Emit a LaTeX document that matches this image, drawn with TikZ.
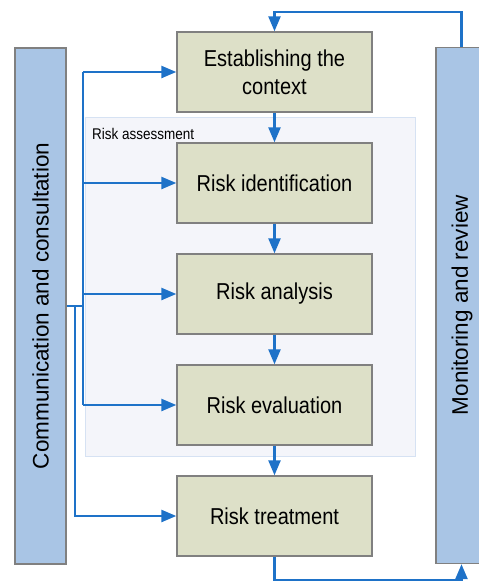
\documentclass[tikz,border=0pt]{standalone}
\usepackage{fontspec}
\setmainfont{Liberation Sans}
\newfontfamily\boxfont[FakeStretch=0.87]{Liberation Sans}
\usetikzlibrary{arrows.meta}
\definecolor{flowblue}{RGB}{30,114,200}
\definecolor{boxfill}{RGB}{221,224,200}
\definecolor{barfill}{RGB}{169,197,229}
\definecolor{edgegray}{RGB}{128,128,128}
\definecolor{regionfill}{RGB}{244,245,250}
\definecolor{regionedge}{RGB}{214,226,243}

\begin{document}
\begin{tikzpicture}[x=1pt, y=-1pt, >={Triangle[length=15pt,width=12pt]},
  stepbox/.style={draw=edgegray, line width=1.4pt, fill=boxfill, minimum width=195pt,
    minimum height=80pt, inner sep=0pt, align=center,
    font=\boxfont\fontsize{23}{28}\selectfont},
  sidebar/.style={draw=edgegray, line width=1.4pt, fill=barfill, minimum width=51pt,
    minimum height=516pt, inner sep=0pt},
  sidetext/.style={rotate=90, font=\fontsize{22.5}{27}\selectfont},
  region/.style={draw=regionedge, line width=1pt, fill=regionfill, minimum width=330pt,
    minimum height=339pt, inner sep=0pt},
  flow/.style={draw=flowblue, line width=2.5pt, ->},
  line/.style={draw=flowblue, line width=2.5pt}]
\useasboundingbox (0,0) rectangle (479,582);
\node[region] (RA) at (250,286.5) {};
\node[anchor=base west, inner sep=0pt, font=\boxfont\fontsize{15.5}{18}\selectfont] (RAL) at (92,139) {Risk assessment};
\node[sidebar] (CC) at (40.5,306) {};
\node[sidetext] (CCT) at (CC) {Communication and consultation};
\node[sidebar] (MR) at (461.5,305.5) {};
\node[sidetext] (MRT) at (462,305) {Monitoring and review};
\node[stepbox] (B1) at (274.5,72) {Establishing the\\context};
\node[stepbox] (B2) at (274.5,183) {Risk identification};
\node[stepbox] (B3) at (274.5,294) {Risk analysis};
\node[stepbox] (B4) at (274.5,405) {Risk evaluation};
\node[stepbox] (B5) at (274.5,516) {Risk treatment};
\coordinate (T1) at (83,72);
\coordinate (T4) at (83,405);
\coordinate (T5) at (75,516);
\coordinate (TL) at (274.5,12);
\coordinate (BL) at (274.5,580);
% steps
\draw [flow] (B1) -- (B2);
\draw [flow] (B2) -- (B3);
\draw [flow] (B3) -- (B4);
\draw [flow] (B4) -- (B5);
% communication and consultation
\draw [line] (CC.east) -- (CC.east -| T1);
\draw [line] (T1) -- (T4);
\foreach \b in {B1,B2,B3,B4}
  \draw [flow] (\b.west -| T1) -- (\b.west);
\draw [flow] (CC.east -| T5) |- (B5.west);
% monitoring and review
\draw [flow] (MR.north) |- (TL) -- (B1.north);
\draw [flow] (B5.south) -- (BL) -| (MR.south);
\end{tikzpicture}
\end{document}
